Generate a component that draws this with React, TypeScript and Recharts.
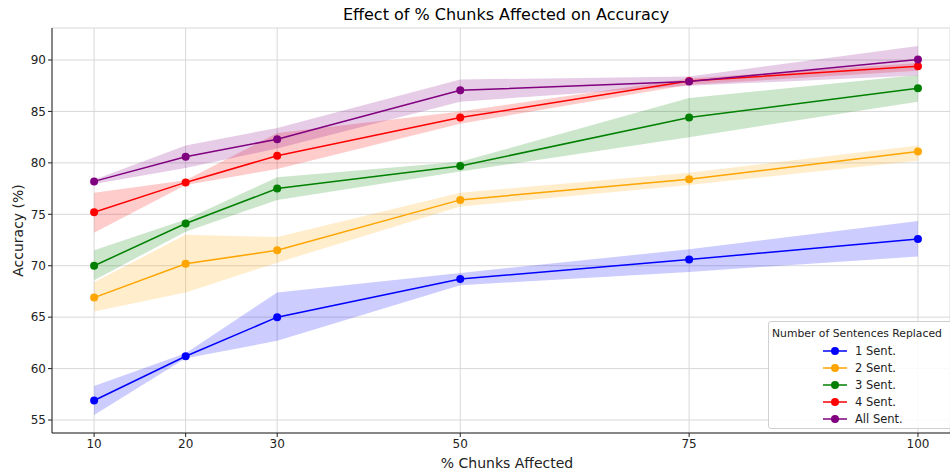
import React from 'react';
import { ComposedChart, Area, Line, XAxis, YAxis, CartesianGrid } from 'recharts';

// x positions (% chunks affected)
const chunks = [10, 20, 30, 50, 75, 100];

// mean accuracy per series
const sent1 = [56.9, 61.2, 65.0, 68.7, 70.6, 72.6];
const sent2 = [66.9, 70.2, 71.5, 76.4, 78.4, 81.1];
const sent3 = [70.0, 74.1, 77.5, 79.7, 84.4, 87.25];
const sent4 = [75.2, 78.1, 80.7, 84.4, 87.95, 89.4];
const sentAll = [78.2, 80.6, 82.3, 87.05, 87.9, 90.05];

// shaded band bounds
const sent1Lo = [55.5, 61.0, 62.7, 68.1, 69.4, 70.9];
const sent1Hi = [58.3, 61.5, 67.4, 69.3, 71.6, 74.35];
const sent2Lo = [65.55, 67.4, 70.3, 75.75, 77.85, 80.2];
const sent2Hi = [68.4, 73.0, 72.8, 77.1, 79.05, 81.7];
const sent3Lo = [68.6, 73.3, 76.4, 79.15, 82.5, 85.95];
const sent3Hi = [71.5, 74.5, 78.6, 80.1, 86.3, 88.55];
const sent4Lo = [73.2, 77.85, 79.4, 83.8, 87.6, 88.95];
const sent4Hi = [77.1, 78.3, 82.9, 85.0, 88.2, 89.7];
const sentAllLo = [77.95, 79.5, 81.4, 85.95, 87.5, 88.5];
const sentAllHi = [78.35, 81.7, 83.4, 88.1, 88.4, 91.35];

const yTicks = [55, 60, 65, 70, 75, 80, 85, 90];

const series = [
  { key: 's1', name: '1 Sent.', color: '#0000ff', mean: sent1, lo: sent1Lo, hi: sent1Hi },
  { key: 's2', name: '2 Sent.', color: '#ffa500', mean: sent2, lo: sent2Lo, hi: sent2Hi },
  { key: 's3', name: '3 Sent.', color: '#008000', mean: sent3, lo: sent3Lo, hi: sent3Hi },
  { key: 's4', name: '4 Sent.', color: '#ff0000', mean: sent4, lo: sent4Lo, hi: sent4Hi },
  { key: 'sa', name: 'All Sent.', color: '#800080', mean: sentAll, lo: sentAllLo, hi: sentAllHi },
];

const data = chunks.map((x, i) => {
  const row: any = { x };
  series.forEach((s) => {
    row[s.key] = s.mean[i];
    row[s.key + 'Band'] = [s.lo[i], s.hi[i]];
  });
  return row;
});

const FONT = '"DejaVu Sans", sans-serif';
const X_DOMAIN: [number, number] = [5.4, 103.5];

export default function App() {
  return (
    <div style={{ position: 'absolute', left: 0, top: 0, width: 950, height: 472, background: '#fff', fontFamily: FONT, overflow: 'hidden' }}>
      <div style={{ position: 'absolute', left: 200, top: 5, width: 612, textAlign: 'center', fontSize: 16, color: '#000' }}>
        Effect of % Chunks Affected on Accuracy
      </div>
      <ComposedChart width={950} height={472} data={data} margin={{ top: 28, right: 0, left: 0, bottom: 0 }}>
        <CartesianGrid stroke="#d8d8d8" strokeWidth={1} />
        <XAxis
          dataKey="x"
          type="number"
          domain={X_DOMAIN}
          ticks={chunks}
          allowDataOverflow
          height={39}
          tickSize={4}
          tick={{ fontSize: 12, fill: '#222', fontFamily: FONT }}
          tickLine={{ stroke: '#222' }}
          axisLine={{ stroke: '#222' }}
          label={{ value: '% Chunks Affected', position: 'insideBottom', offset: 4, dx: 6, style: { fontSize: 14, fill: '#222', fontFamily: FONT } }}
        />
        <XAxis xAxisId="top" orientation="top" type="number" domain={X_DOMAIN} height={0} tick={false} tickLine={false} axisLine={{ stroke: '#222' }} />
        <YAxis
          type="number"
          domain={[53.74, 93.11]}
          ticks={yTicks}
          allowDataOverflow
          width={52}
          tickSize={4}
          tick={{ fontSize: 12, fill: '#222', fontFamily: FONT }}
          tickLine={{ stroke: '#222' }}
          axisLine={{ stroke: '#222' }}
          label={{ value: 'Accuracy (%)', angle: -90, position: 'insideLeft', offset: 18, style: { textAnchor: 'middle', fontSize: 14, fill: '#222', fontFamily: FONT } }}
        />
        {series.map((s) => (
          <Area
            key={s.key + 'Band'}
            type="linear"
            dataKey={s.key + 'Band'}
            stroke="none"
            fill={s.color}
            fillOpacity={0.2}
            isAnimationActive={false}
          />
        ))}
        {series.map((s) => (
          <Line
            key={s.key}
            type="linear"
            dataKey={s.key}
            stroke={s.color}
            strokeWidth={1.5}
            dot={{ r: 4, fill: s.color, stroke: s.color, strokeWidth: 0 }}
            isAnimationActive={false}
          />
        ))}
      </ComposedChart>
      <div
        style={{
          position: 'absolute', left: 768, top: 321, width: 200, height: 106,
          border: '1px solid #d0d0d0', borderRadius: 3, background: 'rgba(255,255,255,0.85)', fontSize: 11.5, color: '#222',
        }}
      >
        <div style={{ position: 'absolute', left: 3, top: 5, whiteSpace: 'nowrap', fontSize: 10.8 }}>Number of Sentences Replaced</div>
        {series.map((s, i) => (
          <div key={s.key} style={{ position: 'absolute', left: 53, top: 21 + i * 17, height: 16, display: 'flex', alignItems: 'center', whiteSpace: 'nowrap' }}>
            <svg width={26} height={10} style={{ marginRight: 7 }}>
              <line x1={1} y1={5} x2={25} y2={5} stroke={s.color} strokeWidth={1.5} />
              <circle cx={13} cy={5} r={4} fill={s.color} />
            </svg>
            {s.name}
          </div>
        ))}
      </div>
    </div>
  );
}
